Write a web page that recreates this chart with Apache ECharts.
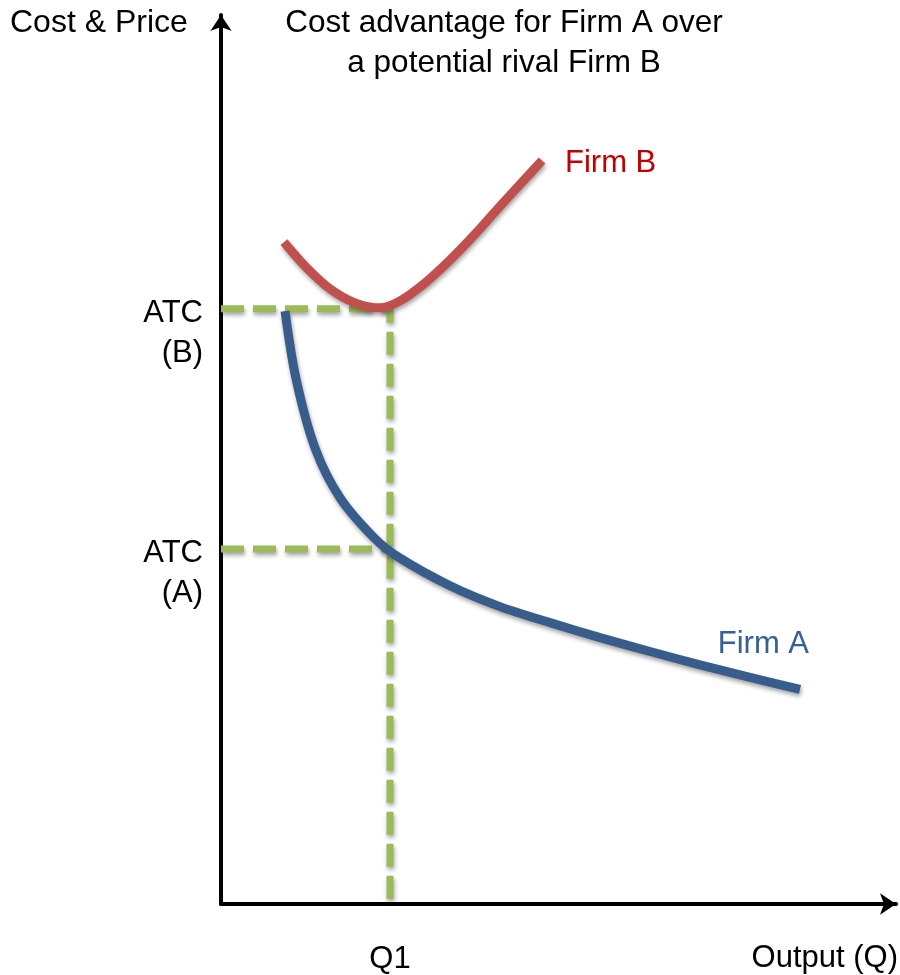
<!DOCTYPE html>
<html>
<head>
<meta charset="utf-8">
<script src="https://cdn.jsdelivr.net/npm/echarts@6/dist/echarts.min.js"></script>
<style>html,body{margin:0;padding:0;background:#fff}#c{width:900px;height:975px}</style>
</head>
<body>
<div id="c"></div>
<script>
// Output (Q) and cost values (arbitrary units 0-100)
const firmAQ = [9.48, 11.11, 13.93, 17.63, 22.81, 26.52, 33.93, 41.33, 48.74, 56.15, 63.56, 70.96, 78.37, 85.78];
const firmAC = [66.7, 59.1, 51.3, 45.7, 41.1, 38.9, 35.8, 33.45, 31.65, 29.97, 28.4, 26.9, 25.5, 24.15];
const firmBQ = [9.33, 12.44, 16.15, 19.85, 23.56, 26.52, 30.22, 33.93, 37.63, 41.33, 44.59, 47.56];
const firmBC = [74.45, 71.76, 69.19, 67.62, 67.06, 67.84, 69.86, 72.44, 75.35, 78.49, 81.18, 83.64];
const q1 = 25.04;
const atcB = 66.95;
const atcA = 39.94;
const qTickValues = [q1];
const qTickLabels = ['Q1'];
const atcLabels = ['ATC\n(B)', 'ATC\n(A)'];
const seriesNames = ['Firm A', 'Firm B'];

const FONT = '"Liberation Sans", Arial, sans-serif';
const FS = 31;
const zip = (xs, ys) => xs.map((x, i) => [x, ys[i]]);
const shadow = { shadowColor: 'rgba(0,0,0,0.35)', shadowBlur: 4, shadowOffsetX: 1, shadowOffsetY: 3 };

const chart = echarts.init(document.getElementById('c'), null, { renderer: 'canvas' });
chart.setOption({
  animation: false,
  backgroundColor: '#fff',
  grid: { left: 221, right: 4, top: 15, bottom: 67.5, containLabel: false },
  xAxis: {
    type: 'value', min: 0, max: 100,
    axisLine: { show: true, onZero: false, symbol: ['none', 'arrow'], symbolSize: [16, 16], lineStyle: { color: '#000', width: 4 } },
    axisTick: { show: false },
    splitLine: { show: false },
    axisLabel: {
      show: true, customValues: qTickValues, margin: 40,
      formatter: (v) => qTickLabels[qTickValues.indexOf(v)] || '',
      fontFamily: FONT, fontSize: FS, color: '#000'
    }
  },
  yAxis: {
    type: 'value', min: 0, max: 100,
    axisLine: { show: true, onZero: false, symbol: ['none', 'arrow'], symbolSize: [16, 16], lineStyle: { color: '#000', width: 4 } },
    axisTick: { show: false },
    splitLine: { show: false },
    axisLabel: { show: false }
  },
  graphic: [
    { type: 'text', x: 10, y: 23, style: { text: 'Cost & Price', font: '32px ' + FONT, fill: '#000', align: 'left', verticalAlign: 'middle' } },
    { type: 'text', x: 504, y: 23, style: { text: 'Cost advantage for Firm A over', font: '31.5px ' + FONT, fill: '#000', align: 'center', verticalAlign: 'middle' } },
    { type: 'text', x: 504, y: 63, style: { text: 'a potential rival Firm B', font: '31.5px ' + FONT, fill: '#000', align: 'center', verticalAlign: 'middle' } },
    { type: 'text', x: 898, y: 958, style: { text: 'Output (Q)', font: FS + 'px ' + FONT, fill: '#000', align: 'right', verticalAlign: 'middle' } }
  ],
  series: [
    {
      type: 'line', name: 'guideB', silent: true, symbol: 'none', clip: false,
      data: [[0, atcB], [q1, atcB], [q1, 0]],
      lineStyle: Object.assign({ color: '#9BBB59', width: 7, type: [23, 9], cap: 'butt' }, shadow)
    },
    {
      type: 'line', name: 'guideA', silent: true, symbol: 'none', clip: false,
      data: [[0, atcA], [q1, atcA]],
      lineStyle: Object.assign({ color: '#9BBB59', width: 7, type: [23, 9], cap: 'butt' }, shadow)
    },
    {
      type: 'line', name: seriesNames[1], silent: true, symbol: 'none', smooth: 0.3, clip: false,
      data: zip(firmBQ, firmBC),
      lineStyle: Object.assign({ color: '#C0504D', width: 9, cap: 'butt' }, shadow)
    },
    {
      type: 'line', name: seriesNames[0], silent: true, symbol: 'none', smooth: 0.3, clip: false,
      data: zip(firmAQ, firmAC),
      lineStyle: Object.assign({ color: '#385D8A', width: 9, cap: 'butt' }, shadow)
    },
    {
      type: 'scatter', name: 'labels', silent: true, symbolSize: 0, clip: false,
      itemStyle: { opacity: 1 },
      emphasis: { disabled: true },
      data: [
        { value: [0, atcB], label: { formatter: atcLabels[0], align: 'right', offset: [-18, 25], color: '#000' } },
        { value: [0, atcA], label: { formatter: atcLabels[1], align: 'right', offset: [-18, 25], color: '#000' } },
        { value: [firmBQ[firmBQ.length - 1], firmBC[firmBC.length - 1]], label: { formatter: seriesNames[1], align: 'left', offset: [23, 3], color: '#C00000' } },
        { value: [firmAQ[firmAQ.length - 1], firmAC[firmAC.length - 1]], label: { formatter: seriesNames[0], align: 'right', offset: [9, -45], color: '#376092' } }
      ],
      label: { show: true, position: 'inside', verticalAlign: 'middle', fontFamily: FONT, fontSize: FS, lineHeight: 40, opacity: 1 }
    }
  ]
});
</script>
</body>
</html>
